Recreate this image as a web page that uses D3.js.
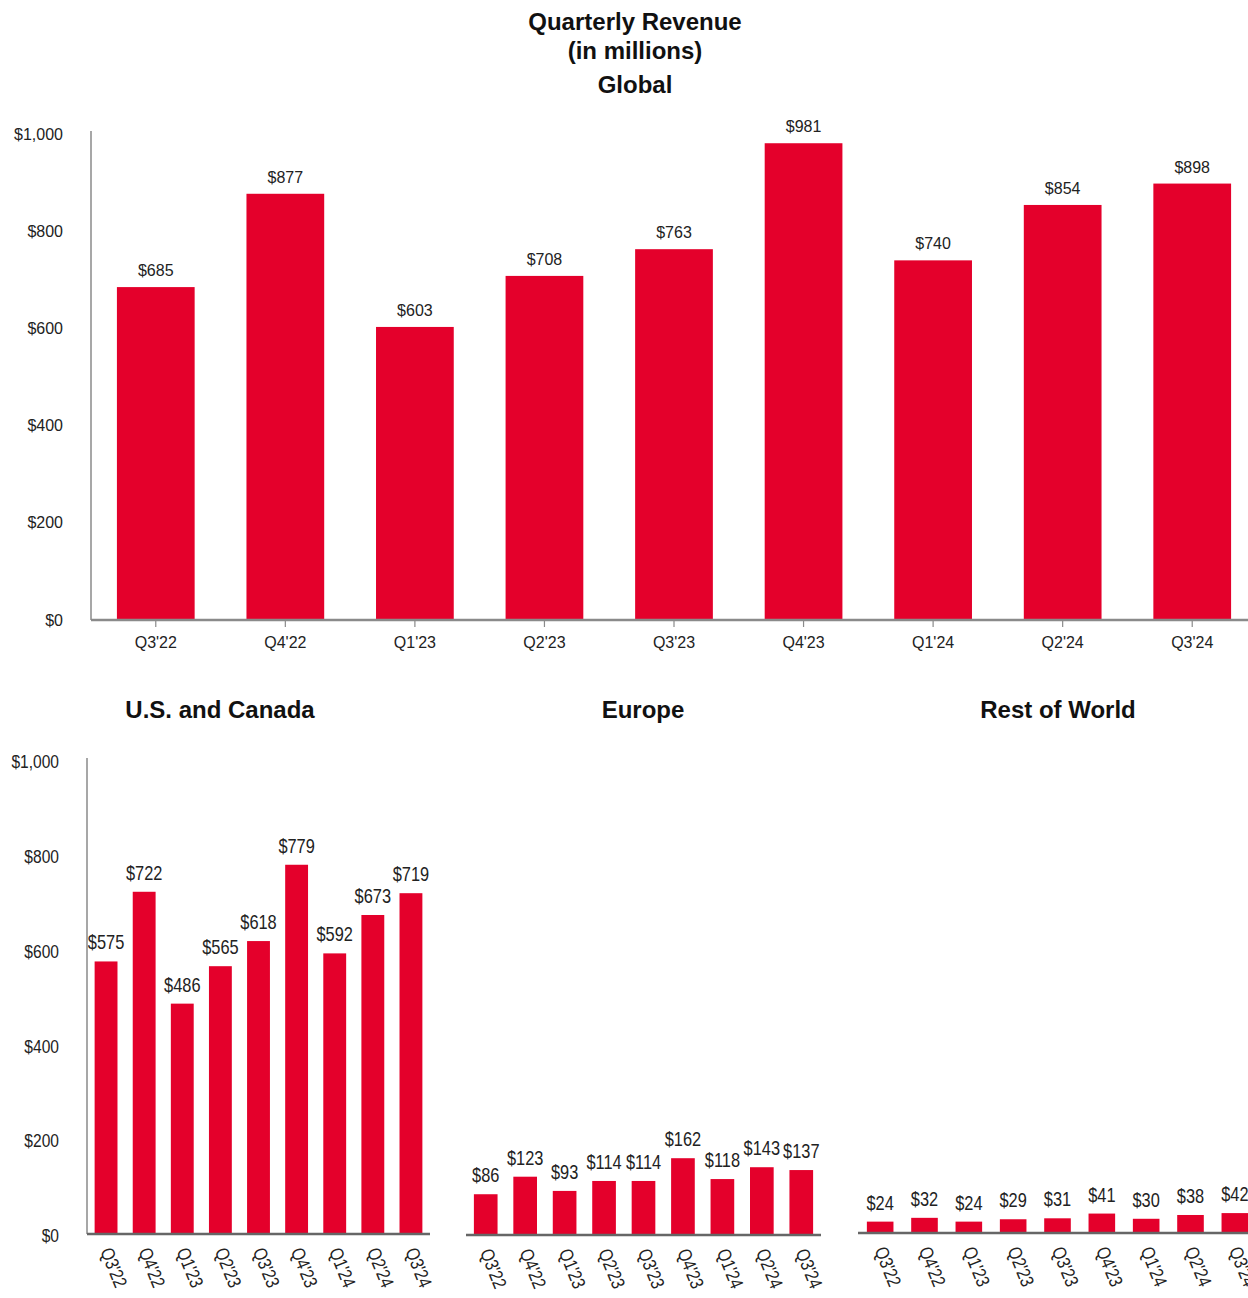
<!DOCTYPE html>
<html>
<head>
<meta charset="utf-8">
<script src="https://cdn.jsdelivr.net/npm/d3@7"></script>
<style>
  body { margin: 0; background: #fff; }
  .box { width: 1248px; height: 1298px; }
  text { font-family: "Liberation Sans", Arial, sans-serif; fill: #222; }
  .titre { font-weight: bold; font-size: 24px; fill: #111; }
</style>
</head>
<body>
<div class="box"></div>
<script>
// données
const quarters = ["Q3'22", "Q4'22", "Q1'23", "Q2'23", "Q3'23", "Q4'23", "Q1'24", "Q2'24", "Q3'24"];
const globalRev = [685, 877, 603, 708, 763, 981, 740, 854, 898];
const usCanada = [575, 722, 486, 565, 618, 779, 592, 673, 719];
const europe = [86, 123, 93, 114, 114, 162, 118, 143, 137];
const restOfWorld = [24, 32, 24, 29, 31, 41, 30, 38, 42];
const yTicks = [0, 200, 400, 600, 800, 1000];

const rouge = '#e4002b';
const gris = '#8a8a8a';
const etroit = 0.82; // police étroite simulée
const fmt = d => '$' + d3.format(',')(d);

const svg = d3.select('.box')
              .append('svg')
              .attr('width', 1248)
              .attr('height', 1298);

// titres
svg.append('text').attr('class', 'titre').attr('x', 635).attr('y', 30).attr('text-anchor', 'middle').text('Quarterly Revenue');
svg.append('text').attr('class', 'titre').attr('x', 635).attr('y', 59).attr('text-anchor', 'middle').text('(in millions)');
svg.append('text').attr('class', 'titre').attr('x', 635).attr('y', 93).attr('text-anchor', 'middle').text('Global');

// ----- graphique global -----
const x = d3.scaleBand().domain(quarters).range([91, 1257]).paddingInner(0.4).paddingOuter(0.2);
const y = d3.scaleLinear().domain([0, 1000]).range([620, 134]);

const gTop = svg.append('g');

gTop.selectAll('rect')
    .data(globalRev)
    .enter()
    .append('rect')
    .attr('x', (d, i) => x(quarters[i]))
    .attr('y', d => y(d))
    .attr('width', x.bandwidth())
    .attr('height', d => y(0) - y(d))
    .attr('fill', rouge);

gTop.selectAll('text.val')
    .data(globalRev)
    .enter()
    .append('text')
    .attr('class', 'val')
    .attr('x', (d, i) => x(quarters[i]) + x.bandwidth() / 2)
    .attr('y', d => y(d) - 11)
    .attr('text-anchor', 'middle')
    .attr('font-size', 16)
    .text(fmt);

// axe y
const axeY = gTop.append('g')
                 .attr('transform', 'translate(91,0)')
                 .call(d3.axisLeft(y).tickValues(yTicks).tickSize(0).tickPadding(28).tickFormat(fmt));
axeY.select('.domain').attr('stroke', gris).attr('stroke-width', 1.5).attr('d', `M0,${y(1000) - 3}V${y(0)}`);
axeY.selectAll('text').attr('font-size', 16).attr('font-family', '"Liberation Sans", Arial, sans-serif').attr('fill', '#222');

// axe x
const axeX = gTop.append('g')
                 .attr('transform', `translate(0,${y(0)})`)
                 .call(d3.axisBottom(x).tickSize(7).tickPadding(10));
axeX.select('.domain').attr('stroke', gris).attr('stroke-width', 2.5).attr('d', 'M91,0H1248');
axeX.selectAll('line').attr('stroke', gris).attr('stroke-width', 1.2);
axeX.selectAll('text').attr('font-size', 16).attr('font-family', '"Liberation Sans", Arial, sans-serif').attr('fill', '#222');

// ----- petits graphiques -----
const panneaux = [
  {titre: 'U.S. and Canada', cx: 220, valeurs: usCanada, range: [87, 430], axeY: true, y0: 1234},
  {titre: 'Europe', cx: 643, valeurs: europe, range: [466, 821], axeY: false, y0: 1235},
  {titre: 'Rest of World', cx: 1058, valeurs: restOfWorld, range: [858, 1257], axeY: false, y0: 1233}
];

panneaux.forEach(p => {
    const g = svg.append('g');

    g.append('text')
     .attr('class', 'titre')
     .attr('x', p.cx)
     .attr('y', 718)
     .attr('text-anchor', 'middle')
     .text(p.titre);

    const xs = d3.scaleBand().domain(quarters).range(p.range).paddingInner(0.4).paddingOuter(0.2);
    const ys = d3.scaleLinear().domain([0, 1000]).range([p.y0, p.y0 - 474]);

    g.selectAll('rect')
     .data(p.valeurs)
     .enter()
     .append('rect')
     .attr('x', (d, i) => xs(quarters[i]))
     .attr('y', d => ys(d))
     .attr('width', xs.bandwidth())
     .attr('height', d => ys(0) - ys(d))
     .attr('fill', rouge);

    g.selectAll('text.val')
     .data(p.valeurs)
     .enter()
     .append('text')
     .attr('class', 'val')
     .attr('transform', (d, i) => `translate(${xs(quarters[i]) + xs.bandwidth() / 2},${ys(d) - 12}) scale(${etroit},1)`)
     .attr('text-anchor', 'middle')
     .attr('font-size', 20)
     .text(fmt);

    if (p.axeY) {
        const ay = g.append('g')
                    .attr('transform', `translate(${p.range[0]},0)`)
                    .call(d3.axisLeft(ys).tickValues(yTicks).tickSize(0).tickFormat(fmt));
        ay.select('.domain').attr('stroke', gris).attr('stroke-width', 1.5).attr('d', `M0,${ys(1000) - 2}V${ys(0)}`);
        ay.selectAll('text')
          .attr('font-size', 19)
          .attr('fill', '#222')
          .attr('x', 0)
          .attr('dy', '0.4em')
          .attr('transform', `translate(-28,0) scale(${etroit},1)`);
    }

    const ax = g.append('g')
                .attr('transform', `translate(0,${p.y0})`)
                .call(d3.axisBottom(xs).tickSize(0));
    ax.select('.domain').attr('stroke', '#666').attr('stroke-width', 2.5).attr('d', `M${p.range[0]},0H${Math.min(p.range[1], 1248)}`);
    ax.selectAll('text')
      .attr('font-size', 19)
      .attr('fill', '#222')
      .attr('text-anchor', 'start')
      .attr('dy', null)
      .attr('y', 0)
      .attr('transform', `translate(-6,17) rotate(68) scale(${etroit},1)`);
});
</script>
</body>
</html>
